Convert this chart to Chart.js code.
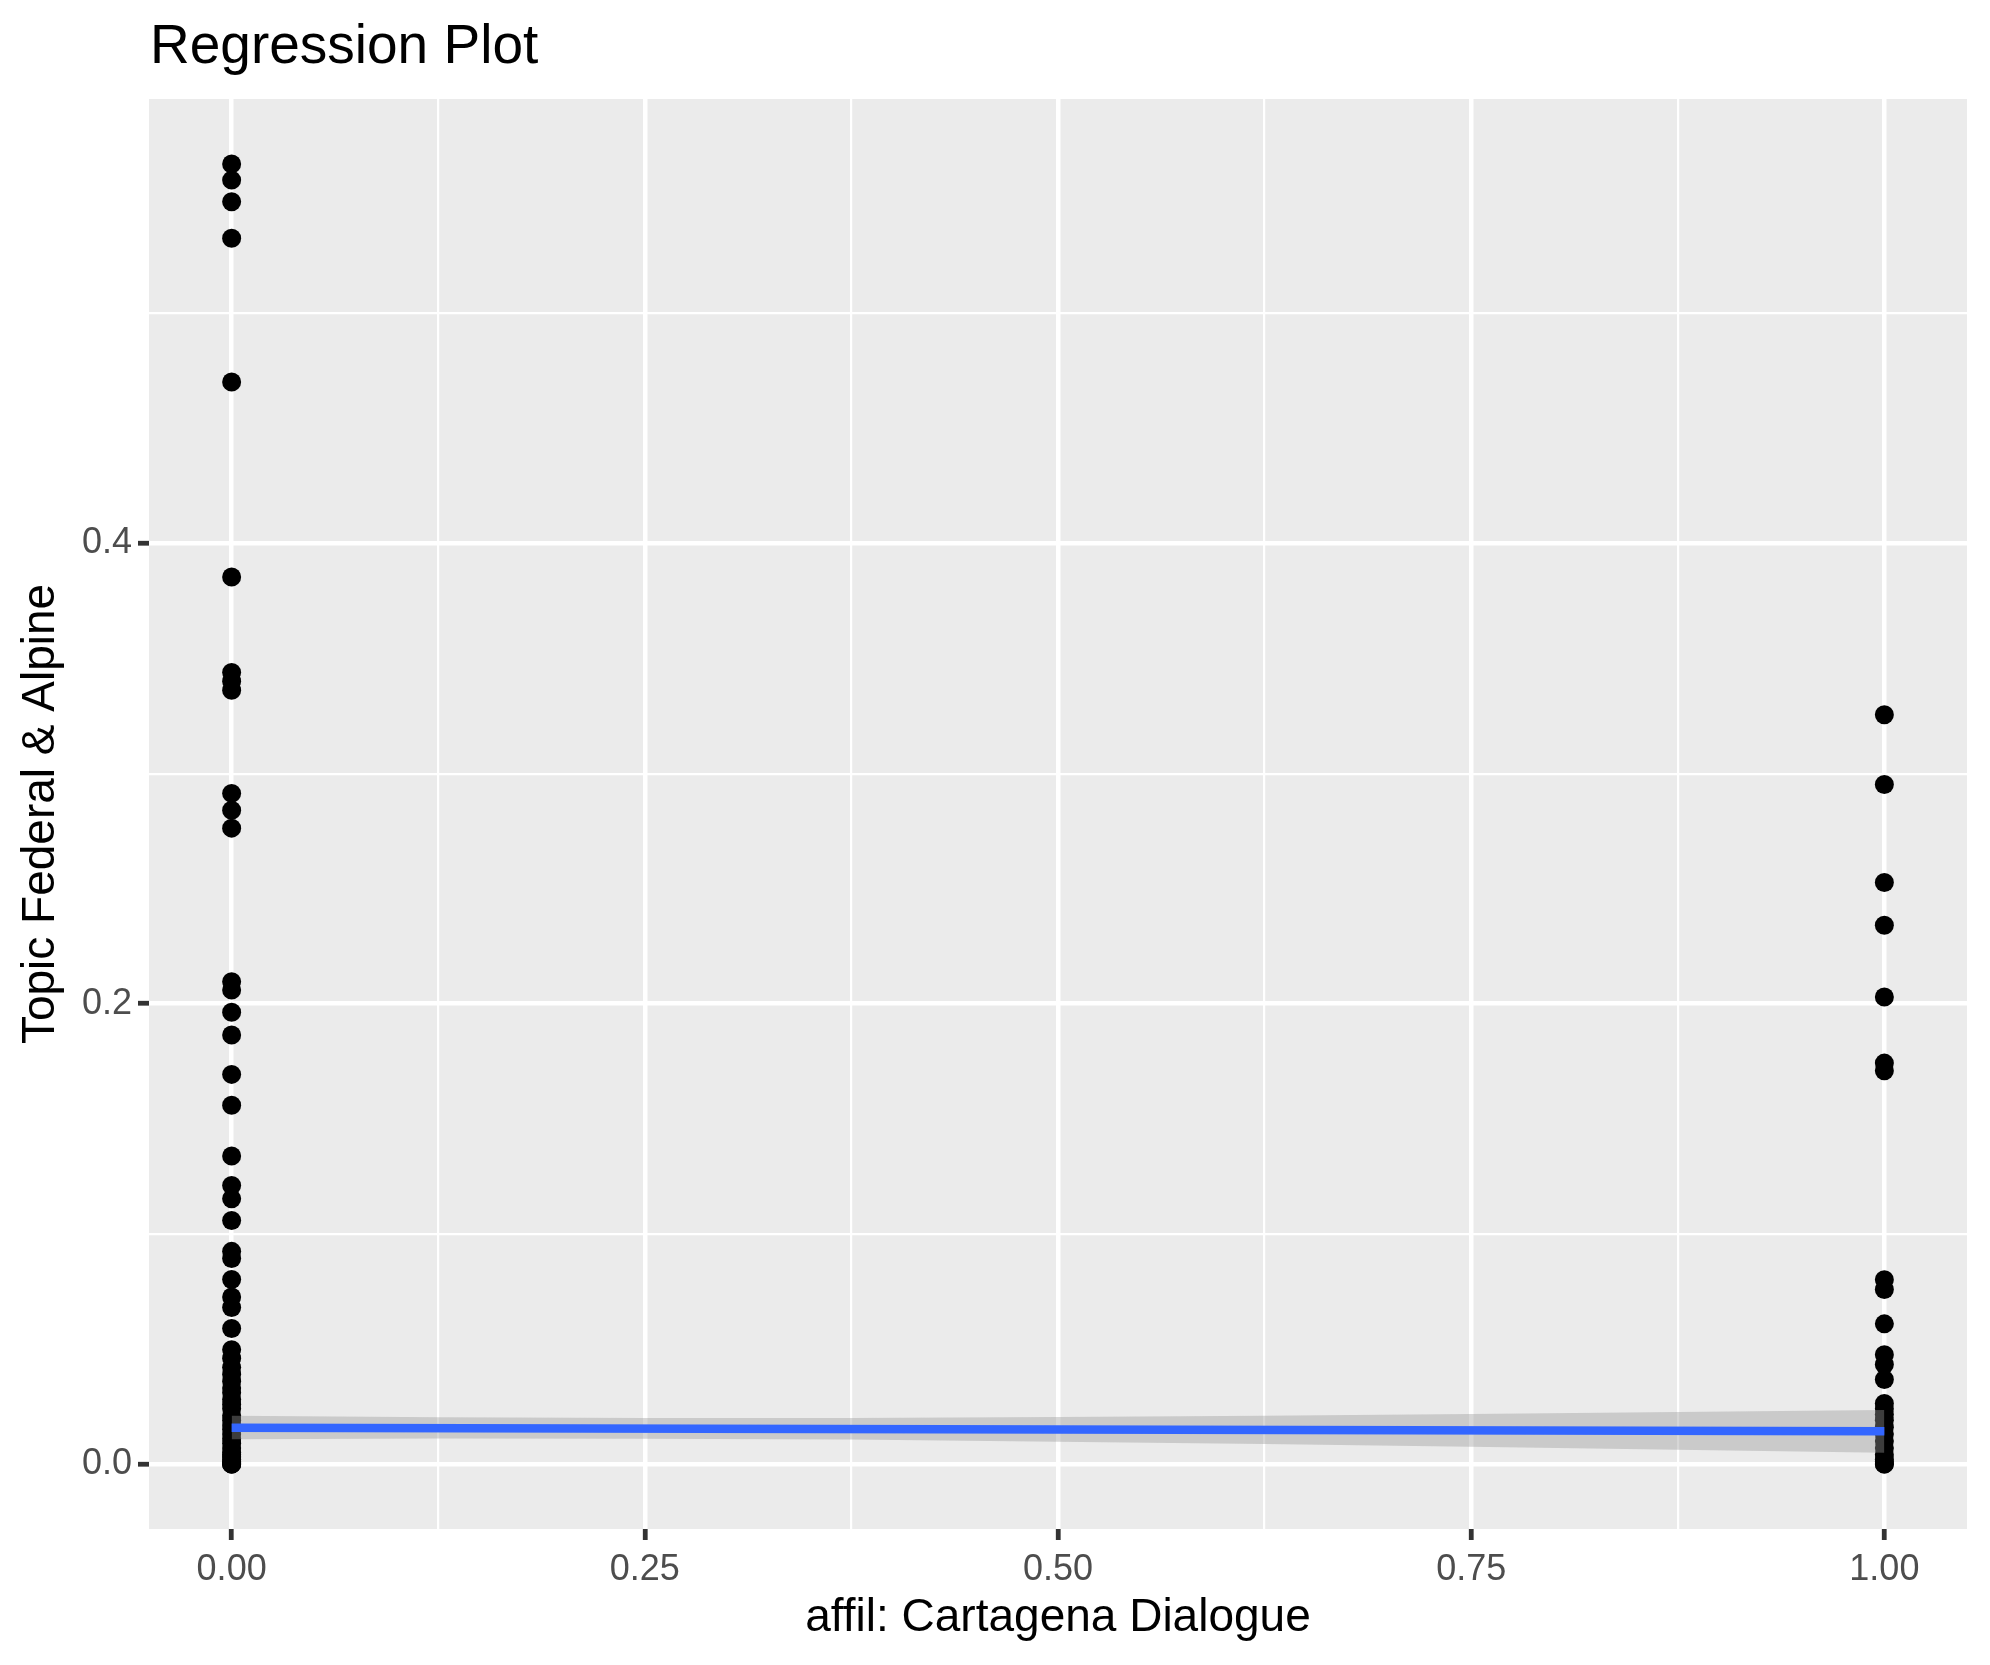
<!DOCTYPE html>
<html>
<head>
<meta charset="utf-8">
<title>Regression Plot</title>
<script src="https://cdn.jsdelivr.net/npm/chart.js@4.4.1/dist/chart.umd.min.js"></script>
<style>
  html, body { margin: 0; padding: 0; background: #ffffff; }
  #wrap { width: 1990px; height: 1665px; }
</style>
</head>
<body>
<div id="wrap"><canvas id="regressionChart" width="1990" height="1665"></canvas></div>
<script>
const groupZero = [
  0.5649, 0.5579, 0.5485, 0.5326, 0.4702, 0.3854, 0.3439, 0.3401, 0.3362,
  0.2914, 0.2841, 0.2763, 0.2096, 0.2060, 0.1963, 0.1864, 0.1693, 0.1559,
  0.1338, 0.1210, 0.1153, 0.1058, 0.0924, 0.0893, 0.0802, 0.0726, 0.0680,
  0.0589, 0.0497, 0.0460, 0.0420, 0.0390, 0.0360, 0.0330, 0.0310, 0.0280,
  0.0260, 0.0240, 0.0210, 0.0190, 0.0170, 0.0150, 0.0130, 0.0110, 0.0090,
  0.0070, 0.0050, 0.0040, 0.0030, 0.0020, 0.0010, 0.0005, 0.0, 0.0, 0.0
];
const groupOne = [
  0.3256, 0.2953, 0.2527, 0.2341, 0.2029, 0.1742, 0.1709, 0.0801, 0.0758,
  0.0609, 0.0475, 0.0432, 0.0367, 0.0263, 0.0240, 0.0215, 0.0190, 0.0160,
  0.0130, 0.0100, 0.0070, 0.0040, 0.0020, 0.0010, 0.0, 0.0
];

// Fitted line and its confidence band
const fitX = [0, 1];
const fitY = [0.0158, 0.0142];
const bandX = [0, 0.125, 0.25, 0.375, 0.5, 0.625, 0.75, 0.875, 1];
const bandLower = [0.0108, 0.0111, 0.0110, 0.0106, 0.0097, 0.0087, 0.0075, 0.0062, 0.0049];
const bandUpper = [0.0210, 0.0203, 0.0200, 0.0200, 0.0204, 0.0210, 0.0217, 0.0226, 0.0235];

// Axis ticks (every other one is a minor grid line with no label)
const xTicks = [0, 0.125, 0.25, 0.375, 0.5, 0.625, 0.75, 0.875, 1];
const xLabels = ['0.00', '', '0.25', '', '0.50', '', '0.75', '', '1.00'];
const yTicks = [0, 0.1, 0.2, 0.3, 0.4, 0.5];
const yLabels = ['0.0', '', '0.2', '', '0.4', ''];

const allY = groupZero.concat(groupOne);
const yLo = Math.min(...allY), yHi = Math.max(...allY);
const yPad = 0.05 * (yHi - yLo);

Chart.defaults.font.family = "'Liberation Sans', Arial, Helvetica, sans-serif";

const points = groupZero.map(v => ({ x: 0, y: v }))
  .concat(groupOne.map(v => ({ x: 1, y: v })));

const isMajor = (list, value) => list.indexOf(value) % 2 === 0;

const panelBackground = {
  id: 'panelBackground',
  beforeDraw(chart) {
    const { ctx, chartArea: a } = chart;
    ctx.save();
    ctx.fillStyle = '#EBEBEB';
    ctx.fillRect(a.left, a.top, a.right - a.left, a.bottom - a.top);
    ctx.restore();
  }
};

const plotTitle = {
  id: 'plotTitle',
  afterDraw(chart) {
    const { ctx, chartArea: a } = chart;
    ctx.save();
    ctx.fillStyle = '#000000';
    ctx.font = "55px 'Liberation Sans', Arial, sans-serif";
    ctx.textAlign = 'left';
    ctx.textBaseline = 'alphabetic';
    ctx.fillText('Regression Plot', a.left + 1, 63);
    ctx.restore();
  }
};

const ctx = document.getElementById('regressionChart').getContext('2d');
const regressionChart = new Chart(ctx, {
  type: 'scatter',
  data: {
    datasets: [
      {
        label: 'observations',
        data: points,
        pointRadius: 9.5,
        pointHoverRadius: 9.5,
        pointBackgroundColor: '#000000',
        pointBorderWidth: 0,
        order: 3,
      },
      {
        type: 'line',
        label: 'band upper',
        data: bandX.map((x, i) => ({ x: x, y: bandUpper[i] })),
        borderWidth: 0,
        pointRadius: 0,
        backgroundColor: 'rgba(153, 153, 153, 0.4)',
        fill: '+1',
        order: 2,
      },
      {
        type: 'line',
        label: 'band lower',
        data: bandX.map((x, i) => ({ x: x, y: bandLower[i] })),
        borderWidth: 0,
        pointRadius: 0,
        fill: false,
        order: 2,
      },
      {
        type: 'line',
        label: 'fit',
        data: fitX.map((x, i) => ({ x: x, y: fitY[i] })),
        borderColor: '#3366FF',
        borderWidth: 8.5,
        borderCapStyle: 'butt',
        pointRadius: 0,
        fill: false,
        order: 1,
      },
    ],
  },
  options: {
    responsive: false,
    animation: false,
    devicePixelRatio: 1,
    layout: { padding: { top: 99, right: 23, bottom: 0, left: 0 } },
    plugins: {
      legend: { display: false },
      tooltip: { enabled: false },
    },
    scales: {
      x: {
        type: 'linear',
        min: -0.05,
        max: 1.05,
        afterBuildTicks: (scale) => { scale.ticks = xTicks.map(v => ({ value: v })); },
        afterFit: (scale) => { scale.height = 136; },
        border: { display: false },
        grid: {
          color: '#FFFFFF',
          lineWidth: (c) => (isMajor(xTicks, c.tick.value) ? 4.5 : 2.2),
          tickLength: 11,
          tickWidth: 4.8,
          tickColor: (c) => (isMajor(xTicks, c.tick.value) ? '#333333' : 'rgba(0,0,0,0)'),
        },
        ticks: {
          autoSkip: false,
          maxRotation: 0,
          padding: 8,
          color: '#4D4D4D',
          font: { size: 36 },
          callback: (value, index) => xLabels[index],
        },
        title: {
          display: true,
          text: 'affil: Cartagena Dialogue',
          color: '#000000',
          font: { size: 46 },
          padding: { top: 0, bottom: 19 },
        },
      },
      y: {
        type: 'linear',
        min: yLo - yPad,
        max: yHi + yPad,
        afterBuildTicks: (scale) => { scale.ticks = yTicks.map(v => ({ value: v })); },
        afterFit: (scale) => { scale.width = 149; },
        border: { display: false },
        grid: {
          color: '#FFFFFF',
          lineWidth: (c) => (isMajor(yTicks, c.tick.value) ? 4.5 : 2.2),
          tickLength: 11,
          tickWidth: 4.8,
          tickColor: (c) => (isMajor(yTicks, c.tick.value) ? '#333333' : 'rgba(0,0,0,0)'),
        },
        ticks: {
          autoSkip: false,
          padding: 6,
          color: '#4D4D4D',
          font: { size: 36 },
          callback: (value, index) => yLabels[index],
        },
        title: {
          display: true,
          text: 'Topic Federal & Alpine',
          color: '#000000',
          font: { size: 46 },
          padding: { top: 14, bottom: 0 },
        },
      },
    },
  },
  plugins: [panelBackground, plotTitle],
});
</script>
</body>
</html>
